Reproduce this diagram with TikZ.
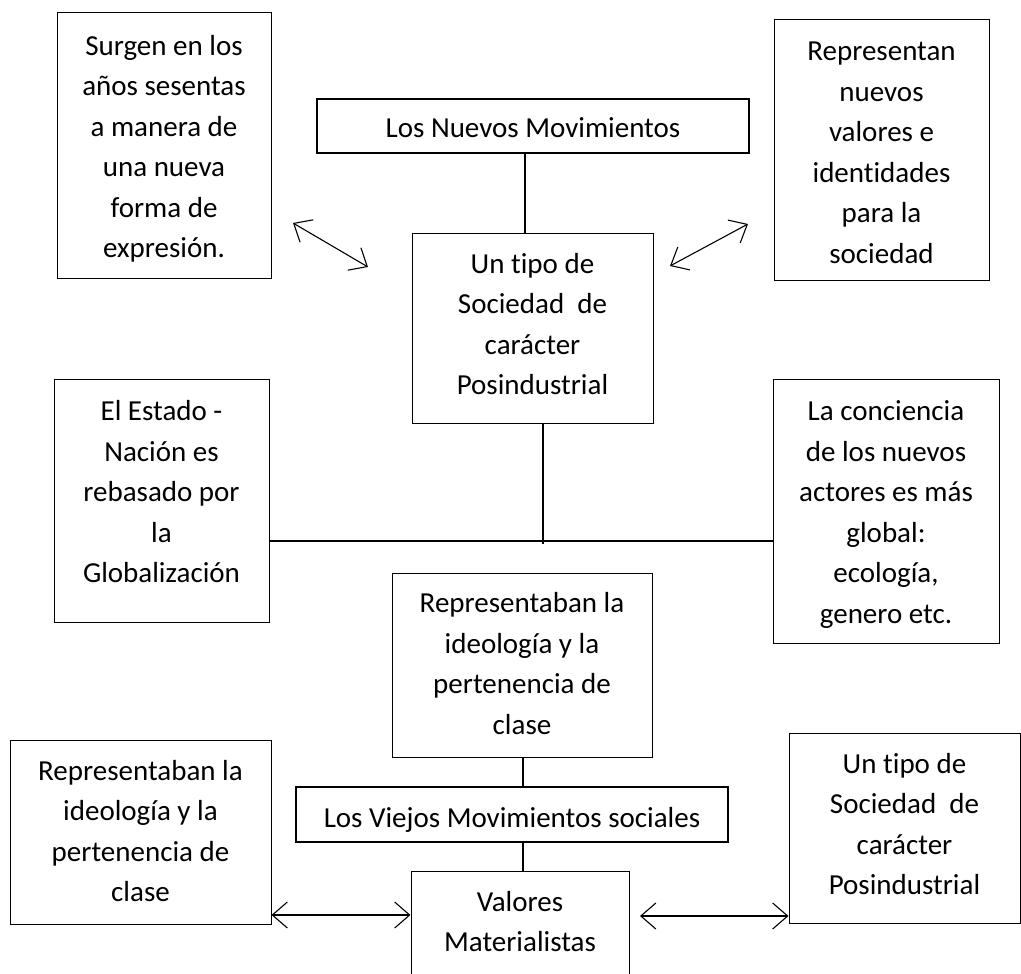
\documentclass[tikz,border=0pt]{standalone}
\usepackage{fontspec}
\setmainfont{Carlito}[Ligatures=NoCommon]
\usetikzlibrary{arrows.meta}
\tikzset{
  box/.style={draw, line width=1pt, inner sep=0pt},
  titlebox/.style={draw, line width=1.6pt, inner sep=0pt},
  txt/.style={align=center, inner sep=0pt, font=\fontsize{29}{40.5}\selectfont},
  conn/.style={line width=1.3pt},
  biarrow/.style={line width=1.1pt, {Straight Barb[length=15pt,width=26pt]}-{Straight Barb[length=15pt,width=26pt]}}
}
\begin{document}
\begin{tikzpicture}[x=1pt,y=-1pt]
\useasboundingbox (0,0) rectangle (1021,974);
\clip (0,0) rectangle (1021,974);
% boxes
\node[box, minimum width=214pt, minimum height=265pt] (surgen) at (164,145.5) {};
\node[txt] (surgenT) at (164,148.75) {Surgen en los\\años sesentas\\a manera de\\una nueva\\forma de\\expresión.};
\node[box, minimum width=215pt, minimum height=260pt] (repr) at (881.5,150) {};
\node[txt] (reprT) at (881.5,152.75) {Representan\\nuevos\\valores e\\identidades\\para la\\sociedad};
\node[titlebox, minimum width=432pt, minimum height=54pt] (nuevos) at (533,126) {};
\node[txt] (nuevosT) at (533,127.75) {Los Nuevos Movimientos};
\node[box, minimum width=241pt, minimum height=190pt] (tipo) at (532.5,328) {};
\node[txt] (tipoT) at (532.5,324) {Un tipo de\\Sociedad\ \ de\\carácter\\Posindustrial};
\node[box, minimum width=215pt, minimum height=243pt] (estado) at (161.5,500.5) {};
\node[txt] (estadoT) at (161.5,491.75) {El Estado -\\Nación es\\rebasado por\\la\\Globalización};
\node[box, minimum width=226pt, minimum height=264pt] (conc) at (886,511) {};
\node[txt] (concT) at (886,514.75) {La conciencia\\de los nuevos\\actores es más\\global:\\ecología,\\genero etc.};
\node[box, minimum width=260pt, minimum height=184pt] (repc) at (522,665) {};
\node[txt] (repcT) at (522,663.4) {Representaban la\\ideología y la\\pertenencia de\\clase};
\node[titlebox, minimum width=432pt, minimum height=55pt] (viejos) at (512,814.5) {};
\node[txt] (viejosT) at (512,820) {Los Viejos Movimientos sociales};
\node[box, minimum width=218pt, minimum height=130pt] (valores) at (520,936) {};
\node[txt] (valoresT) at (520,921.75) {Valores\\Materialistas};
\node[box, minimum width=261pt, minimum height=184pt] (repl) at (140.5,832) {};
\node[txt] (replT) at (140.5,831) {Representaban la\\ideología y la\\pertenencia de\\clase};
\node[box, minimum width=231pt, minimum height=190pt] (tipor) at (904.5,828) {};
\node[txt] (tiporT) at (904.5,824.25) {Un tipo de\\Sociedad\ \ de\\carácter\\Posindustrial};
% helper coordinates
\coordinate (vx1) at (525,0);
\coordinate (vx2) at (543,544);
\coordinate (hy) at (0,541);
\coordinate (vx3) at (523,0);
\coordinate (a1s) at (293,223);
\coordinate (a1e) at (368,267);
\coordinate (a2s) at (670,266);
\coordinate (a2e) at (748,224);
\coordinate (a3s) at (640,916);
\coordinate (a4y) at (0,915);
% connectors
\draw[conn] (nuevos.south -| vx1) -- (tipo.north -| vx1);
\draw[conn] (tipo.south -| vx2) -- (vx2);
\draw[conn] (estado.east |- hy) -- (conc.west |- hy);
\draw[conn] (repc.south -| vx3) -- (viejos.north -| vx3);
\draw[conn] (viejos.south -| vx3) -- (valores.north -| vx3);
\draw[biarrow] (a1s) -- (a1e);
\draw[biarrow] (a2s) -- (a2e);
\draw[biarrow] (repl.east |- a4y) -- (valores.west |- a4y);
\draw[biarrow] (a3s) -- (tipor.west |- a3s);
\end{tikzpicture}
\end{document}
